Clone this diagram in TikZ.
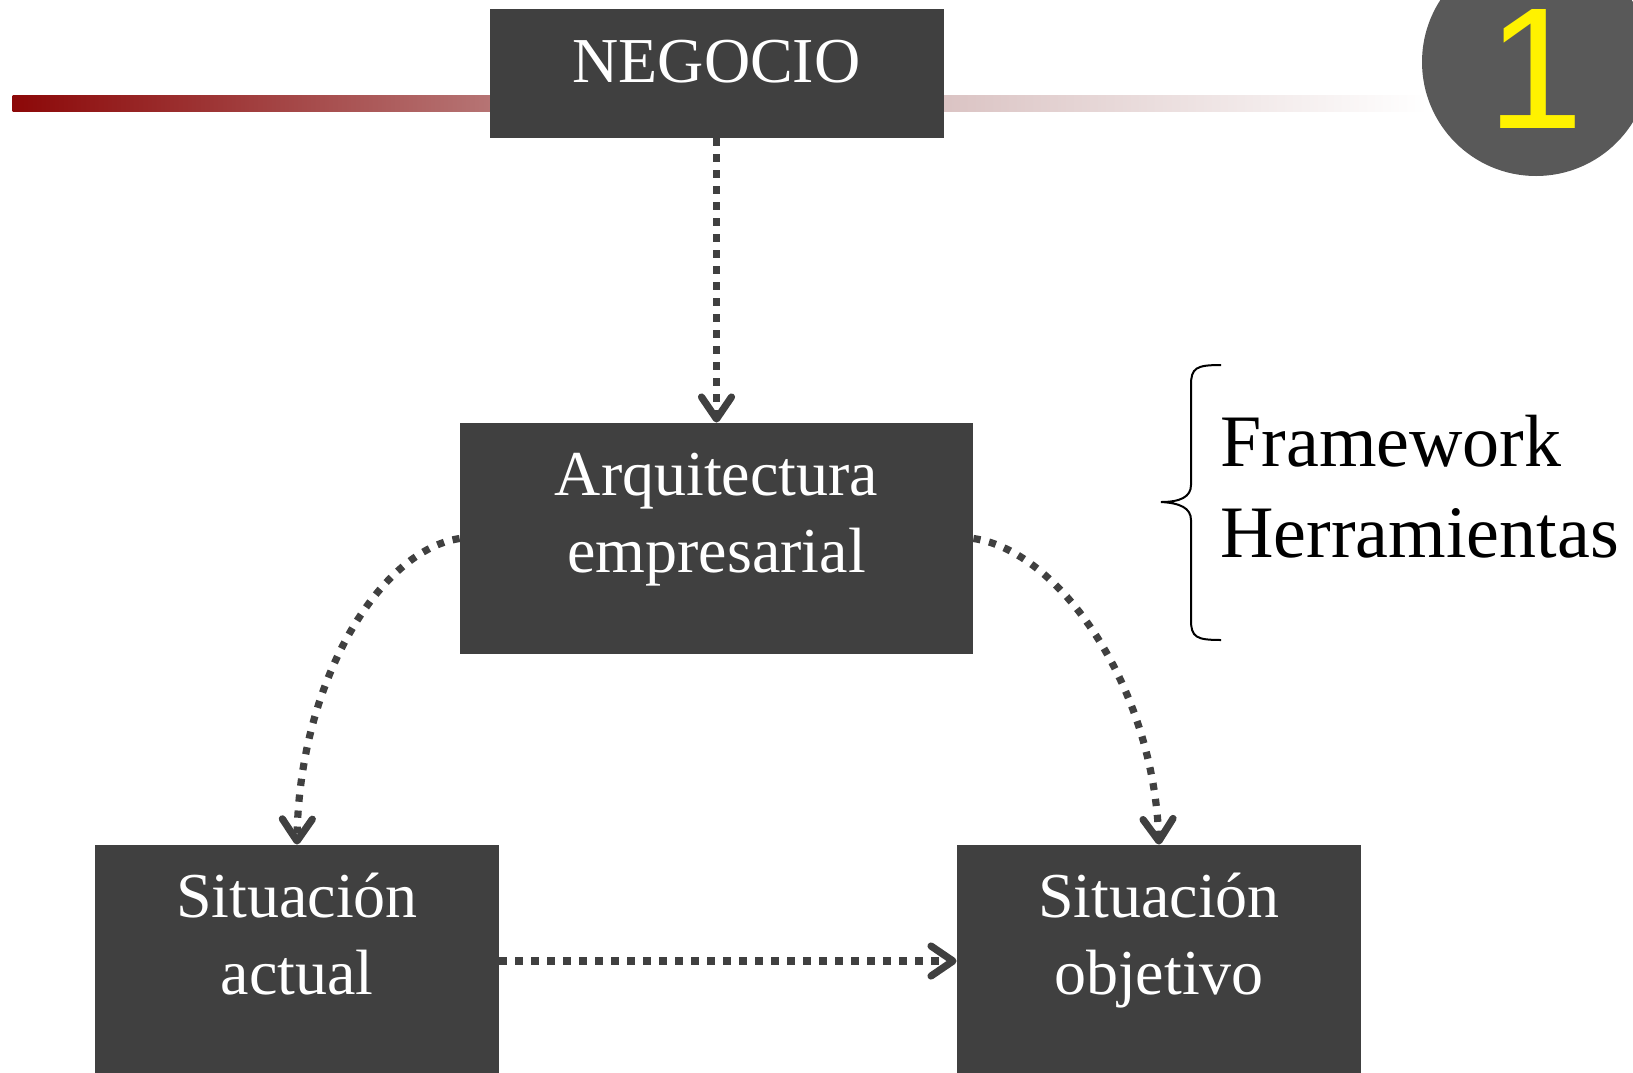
\documentclass[tikz,border=0pt]{standalone}
\usepackage{fontspec}
\setmainfont{Liberation Serif}
\newfontfamily\numfont{Liberation Sans}
\usetikzlibrary{arrows.meta}
\definecolor{oscuro}{RGB}{64,64,64}
\definecolor{gris}{RGB}{89,89,89}
\definecolor{barrojo}{RGB}{140,8,8}
\definecolor{barmedio}{RGB}{202,168,168}
\tikzstyle{bloque}=[rectangle, fill=oscuro, text=white, inner sep=0pt, anchor=base, align=center, font=\fontsize{32}{38.5}\selectfont]
\tikzstyle{flecha}=[draw=oscuro, line width=3.6pt, dash pattern=on 3.6pt off 4.4pt, -{Straight Barb[length=11pt, width=15pt, round]}]
\newcommand{\bloque}{\node[bloque]}

\begin{document}
\begin{tikzpicture}[x=0.5pt, y=-0.5pt]
\useasboundingbox (0,0) rectangle (1633,1072);
\clip (0,0) rectangle (1633,1072);
\shade[left color=barrojo, right color=white, middle color=barmedio] (12.5,95) rectangle (1427,111);
\node[circle, fill=gris, minimum size=114pt, inner sep=0pt, text=yellow, text height=66pt, font=\numfont\fontsize{86.5}{86.5}\selectfont] (uno) at (1536,62) {1};
\bloque[minimum width=227pt, text height=36.5pt, text depth=28pt] (neg) at (716.5,82) {NEGOCIO};
\bloque[minimum width=256.5pt, text height=74.5pt, text depth=41pt] (arq) at (716.5,572) {Arquitectura\\empresarial};
\bloque[minimum width=202pt, text height=74.5pt, text depth=41.5pt] (act) at (297,994) {Situación\\actual};
\bloque[minimum width=202pt, text height=74.5pt, text depth=41.5pt] (obj) at (1159,994) {Situación\\objetivo};
\draw[flecha] (neg) -- (arq);
\draw[flecha] (arq.west) .. controls +(-80,12) and +(2,-163) .. (act.north);
\draw[flecha] (arq.east) .. controls +(85,12) and +(-6,-160) .. (obj.north);
\draw[flecha] (act) -- (obj);
\draw[line width=1pt] (1221,365) .. controls (1196,365) and (1191,368) .. (1191,385) -- (1191,485)
  .. controls (1191,497) and (1180,502) .. (1161,502) .. controls (1180,503) and (1191,508) .. (1191,520)
  -- (1191,620) .. controls (1191,637) and (1196,640) .. (1221,640);
\node[anchor=base west, align=left, inner sep=0pt, font=\fontsize{37}{45.3}\selectfont] (herr) at (1220,557) {Framework\\Herramientas};
\end{tikzpicture}
\end{document}
